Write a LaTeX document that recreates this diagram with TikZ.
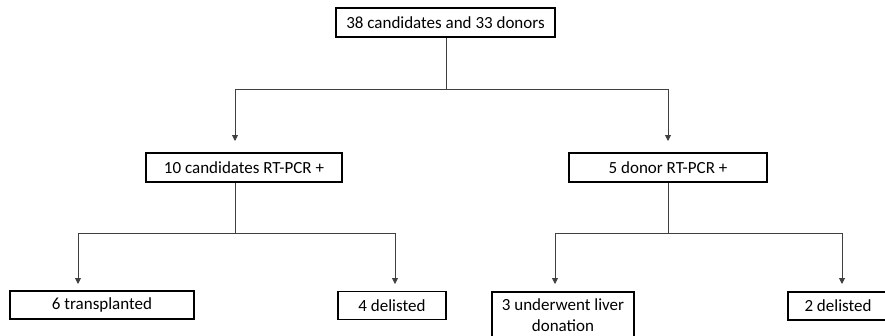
\documentclass[tikz,border=0pt]{standalone}
\usepackage{fontspec}
\setmainfont{Carlito}
\usetikzlibrary{arrows.meta}
\begin{document}
\begin{tikzpicture}[x=1pt,y=-1pt,
  box/.style={draw=black, line width=1.8pt, rectangle, inner sep=0pt, align=center,
    font=\fontsize{17}{20.5}\selectfont, text=black},
  conn/.style={draw=black!75, line width=0.9pt},
  arr/.style={conn, -{Triangle[length=6pt,width=6pt]}}]
\useasboundingbox (0,0) rectangle (885,335);
\clip (0,0) rectangle (885,335);
\fill[white] (0,0) rectangle (885,335);
% nodes
\node[box, minimum width=219pt, minimum height=29pt] (top) at (445.5,22.5) {38 candidates and 33 donors};
\node[box, minimum width=196pt, minimum height=29pt] (cand) at (244,167.5) {10 candidates RT-PCR +};
\node[box, minimum width=198pt, minimum height=29pt] (donor) at (668,167.5) {5 donor RT-PCR +};
\node[box, minimum width=184pt, minimum height=28pt] (trans) at (102,305) {6 transplanted};
\node[box, minimum width=108pt, minimum height=28pt] (del1) at (392,305.5) {4 delisted};
\node[box, minimum width=142pt, minimum height=62pt, anchor=north] (liver) at (563,291) {};
\node[font=\fontsize{17}{20.5}\selectfont, align=center] (livertxt) at (563,315) {3 underwent liver\\donation};
\node[box, minimum width=100pt, minimum height=28pt] (del2) at (838,306) {2 delisted};
% junction and tip coordinates
\coordinate (j1) at (446,89);
\coordinate (j2) at (235,233);
\coordinate (j3) at (668,233);
\coordinate (t1) at (235,141);
\coordinate (t2) at (668,141);
\coordinate (t3) at (78,284);
\coordinate (t4) at (395,284);
\coordinate (t5) at (555,284);
\coordinate (t6) at (842,284);
% connectors
\draw[conn] (top.south -| j1) -- (j1);
\draw[arr] (j1) -| (t1);
\draw[arr] (j1) -| (t2);
\draw[conn] (cand.south -| j2) -- (j2);
\draw[arr] (j2) -| (t3);
\draw[arr] (j2) -| (t4);
\draw[conn] (donor.south) -- (j3);
\draw[arr] (j3) -| (t5);
\draw[arr] (j3) -| (t6);
\end{tikzpicture}
\end{document}
